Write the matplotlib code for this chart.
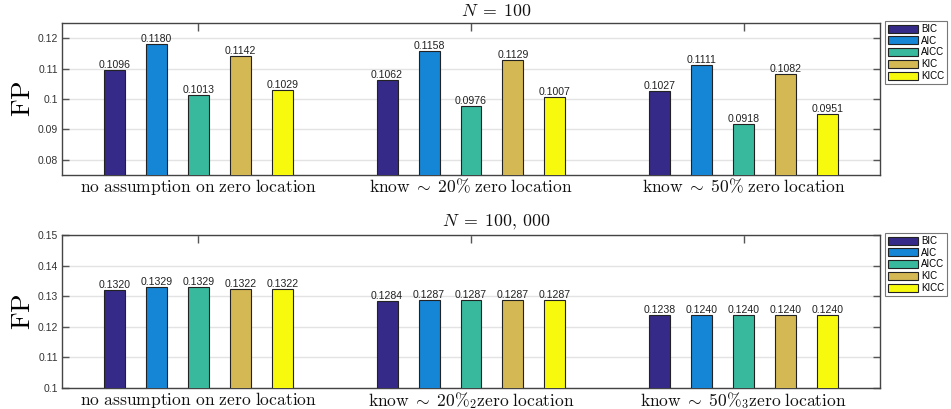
import matplotlib
matplotlib.use("Agg")
import matplotlib.pyplot as plt
import numpy as np

plt.rcParams['mathtext.fontset'] = 'cm'
plt.rcParams['font.family'] = ['Liberation Sans', 'DejaVu Sans']

methods = ['BIC', 'AIC', 'AICC', 'KIC', 'KICC']
colors = ['#352a87', '#1585d6', '#38b99e', '#d4b854', '#f8fa0d']

groups_small = [r'$\mathrm{no\ assumption\ on\ zero\ location}$',
                r'$\mathrm{know}\;\sim\;20\%\ \mathrm{zero\ location}$',
                r'$\mathrm{know}\;\sim\;50\%\ \mathrm{zero\ location}$']
groups_large = [r'$\mathrm{no\ assumption\ on\ zero\ location}$',
                r'$\mathrm{know}\;\sim\;20\%_{2}\mathrm{zero\ location}$',
                r'$\mathrm{know}\;\sim\;50\%_{3}\mathrm{zero\ location}$']

# FP per setting (rows) and criterion (columns)
fp_n100 = [[0.1096, 0.1180, 0.1013, 0.1142, 0.1029],
           [0.1062, 0.1158, 0.0976, 0.1129, 0.1007],
           [0.1027, 0.1111, 0.0918, 0.1082, 0.0951]]
fp_n100k = [[0.1320, 0.1329, 0.1329, 0.1322, 0.1322],
            [0.1284, 0.1287, 0.1287, 0.1287, 0.1287],
            [0.1238, 0.1240, 0.1240, 0.1240, 0.1240]]

ticks_n100 = [0.08, 0.09, 0.10, 0.11, 0.12]
ticks_n100k = [0.10, 0.11, 0.12, 0.13, 0.14, 0.15]

fig = plt.figure(figsize=(9.51, 4.09), dpi=100)
W, H = 951, 409


def panel(rect, data, title, ylim, yticks, labels):
    ax = fig.add_axes(rect)
    data = np.array(data)
    x = np.arange(1, data.shape[0] + 1)
    step = 0.154
    width = 0.077
    for j, (m, c) in enumerate(zip(methods, colors)):
        xs = x + (j - 2) * step
        ax.bar(xs, data[:, j], width=width, bottom=0, color=c,
               edgecolor='#222222', linewidth=0.8, label=m, zorder=3)
        for xi, v in zip(xs, data[:, j]):
            ax.text(xi, v, f'{v:.4f}', ha='center', va='bottom',
                    fontsize=7.6, color='#222222', zorder=4)
    ax.set_xlim(0.5, 3.5)
    ax.set_ylim(*ylim)
    ax.set_yticks(yticks)
    ax.set_yticklabels([f'{t:g}' for t in yticks], fontsize=7.5, color='#333333')
    ax.set_xticks(x)
    ax.set_xticklabels([''] * len(x))
    for xi, lab in zip(x, labels):
        ax.text(xi, -0.01, lab, transform=ax.get_xaxis_transform(),
                ha='center', va='top', fontsize=12.6, color='#111111')
    ax.yaxis.grid(True, color='#e3e3e3', linewidth=1.0, zorder=0)
    ax.set_axisbelow(True)
    ax.tick_params(direction='in', top=True, right=True, length=5,
                   width=1.0, color='#555555', pad=3)
    ax.tick_params(axis='x', length=6)
    for s in ax.spines.values():
        s.set_color('#444444')
        s.set_linewidth(1.0)
    ax.set_ylabel(r'$\mathrm{FP}$', fontsize=19.5)
    ax.yaxis.set_label_coords(-0.032, 0.5)
    ax.text(0.5306, 1.02, title, transform=ax.transAxes, ha='center',
            va='bottom', fontsize=12.8, color='#111111')
    leg = ax.legend(loc='upper left', bbox_to_anchor=(1.006, 1.013),
                    fontsize=7, frameon=True, fancybox=False,
                    edgecolor='#555555', handlelength=3.1, handleheight=0.9,
                    handletextpad=0.3, borderpad=0.3, labelspacing=0.18,
                    borderaxespad=0)
    leg.get_frame().set_linewidth(0.8)
    return ax


panel([62 / W, 1 - 175 / H, 818 / W, 152 / H], fp_n100, r'$N\;=\;100$',
      (0.075, 0.125), ticks_n100, groups_small)
panel([62 / W, 1 - 388 / H, 818 / W, 153 / H], fp_n100k, r'$N\;=\;100,\,000$',
      (0.10, 0.15), ticks_n100k, groups_large)

fig.savefig('out.png', dpi=100)
